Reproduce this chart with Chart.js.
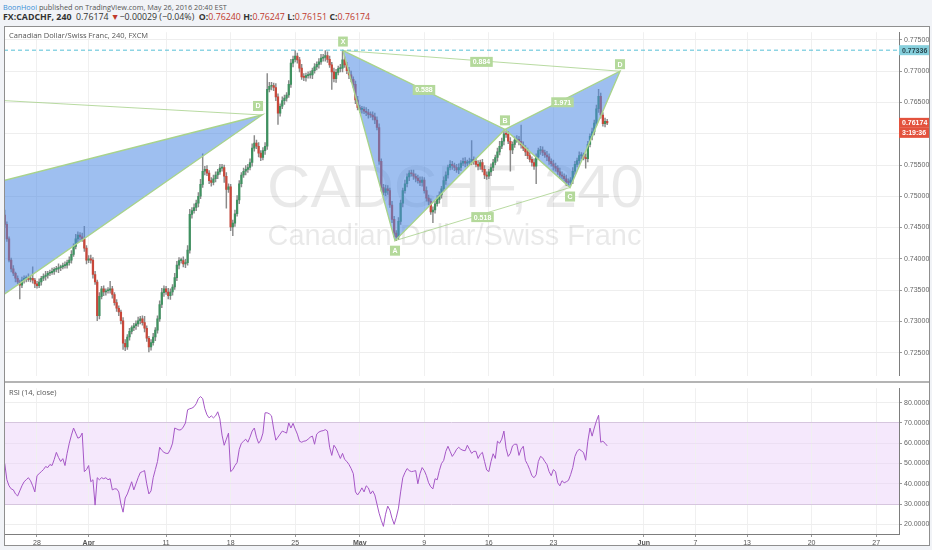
<!DOCTYPE html>
<html>
<head>
<meta charset="utf-8">
<script src="https://cdn.jsdelivr.net/npm/chart.js@4.4.1/dist/chart.umd.min.js"></script>
<style>
  body { margin:0; width:932px; height:550px; background:#f1f3f7; position:relative; overflow:hidden; font-family:"Open Sans", sans-serif; }
  .hdr { position:absolute; left:3px; white-space:nowrap; color:#555; }
  #h1 { top:2px; font-size:7.3px; }
  #h2 { top:11px; font-size:8.8px; color:#333; }
  #h2 b { font-weight:700; }
  .red { color:#c0392b; }
  #box { position:absolute; left:4px; top:26px; width:926px; height:520px; background:#fff; }
  canvas { position:absolute; }
  #c1 { left:4px; top:26px; }
  #c2 { left:4px; top:382px; }
  #frame { position:absolute; left:4px; top:26px; width:924px; height:518px; border:1px solid #8f8f8f; pointer-events:none; }
  #sep { position:absolute; left:4px; top:381px; width:926px; height:2px; background:#b4b4b4; }
  .pane { position:absolute; left:9px; font-size:7.5px; color:#555; white-space:nowrap; }
</style>
</head>
<body>
<div class="hdr" id="h1"><span style="color:#3a8fd6">BoonHooi</span> published on TradingView.com, May 26, 2016 20:40 EST</div>
<div class="hdr" id="h2"><b>FX:CADCHF, 240</b>&nbsp; 0.76174 <span class="red">&#9660;</span>&minus;0.00029 (&minus;0.04%) &nbsp;<b>O:</b><span class="red">0.76240</span> <b>H:</b><span class="red">0.76247</span> <b>L:</b><span class="red">0.76151</span> <b>C:</b><span class="red">0.76174</span></div>
<div id="box"></div>
<canvas id="c1" width="926" height="356"></canvas>
<canvas id="c2" width="926" height="164"></canvas>
<div id="sep"></div>
<div id="frame"></div>
<div class="pane" style="top:30px">Canadian Dollar/Swiss Franc, 240, FXCM</div>
<div class="pane" style="top:387px">RSI (14, close)</div>
<script>
// 4h candles, 6 per trading day, x is counted in trading days from Mon 28 Mar
const firstDay = -2.5;
const closes = [7455,7432,7398,7384,7377,7369,7363,7358,7366,7369,
 7370,7367,7369,7366,7360,7357,7363,7369,7372,7374,
 7377,7378,7380,7383,7384,7386,7387,7389,7390,7394,
 7398,7407,7420,7432,7438,7435,7432,7417,7398,7400,
 7398,7375,7363,7309,7340,7352,7347,7349,7350,7352,
 7343,7330,7321,7315,7301,7265,7259,7275,7284,7290,
 7293,7296,7301,7304,7298,7289,7273,7259,7266,7275,
 7286,7304,7327,7346,7352,7347,7341,7347,7355,7370,
 7390,7397,7397,7392,7394,7414,7471,7477,7482,7489,
 7500,7519,7540,7543,7537,7525,7522,7528,7534,7539,
 7545,7546,7532,7511,7515,7451,7457,7472,7494,7520,
 7534,7540,7543,7546,7554,7577,7585,7580,7569,7562,
 7573,7580,7671,7676,7677,7674,7659,7633,7644,7653,
 7657,7662,7679,7713,7719,7724,7718,7705,7691,7690,
 7693,7694,7694,7701,7707,7711,7715,7721,7722,7725,
 7719,7710,7699,7688,7698,7704,7705,7718,7710,7701,
 7694,7687,7679,7654,7642,7639,7639,7636,7634,7631,
 7630,7627,7622,7610,7556,7514,7506,7512,7509,7486,
 7463,7441,7435,7460,7489,7509,7520,7531,7537,7536,
 7532,7529,7525,7522,7526,7509,7497,7492,7475,7478,
 7488,7495,7502,7512,7525,7534,7546,7551,7549,7546,
 7542,7546,7553,7556,7553,7554,7556,7559,7556,7551,
 7548,7554,7543,7534,7532,7539,7546,7554,7562,7571,
 7580,7588,7600,7599,7588,7574,7583,7590,7591,7588,
 7582,7577,7571,7565,7559,7554,7548,7563,7573,7574,
 7570,7566,7563,7556,7552,7548,7545,7539,7534,7532,
 7528,7523,7522,7526,7540,7551,7557,7565,7565,7562,
 7560,7583,7596,7603,7617,7640,7660,7630,7616,7620,
 7617.4];
const firstOpen = 7470;
// wick lengths beyond the body, in pips
const wickUp = [8,4,3,3,5,2,4,3,5,4, 3,6,4,18,3,4,5,3,4,6, 3,4,5,3,4,6,3,4,5,4, 5,6,4,7,5,4,6,20,4,5,
 6,4,5,3,6,4,5,3,4,12, 4,3,5,4,3,5,6,4,5,3, 4,5,6,4,5,10,4,3,5,6, 4,5,6,7,5,4,6,5,4,7,
 6,5,4,6,5,7,8,5,6,5, 6,8,28,5,6,4,5,6,5,4, 6,5,4,6,5,4,5,6,7,5, 4,5,6,5,6,7,12,5,6,4,
 5,6,25,6,5,4,6,5,4,6, 5,4,6,6,5,9,5,4,6,5, 4,5,6,4,5,4,5,6,5,8, 6,5,4,6,5,4,6,15,5,4,
 5,6,4,5,6,4,5,4,6,5, 4,5,6,5,6,4,5,6,5,4, 6,5,4,6,5,4,6,5,4,5, 6,4,5,6,5,4,6,5,4,5,
 4,6,5,4,6,5,4,6,5,4, 5,6,4,5,6,4,5,30,4,5, 6,4,5,6,5,4,6,5,4,6, 8,5,6,4,5,6,4,5,6,5,
 26,5,4,6,5,4,6,5,4,6, 5,4,6,5,4,6,5,4,6,5, 4,6,5,4,6,5,4,6,5,4, 6,5,4,6,5,6,11,5,4,5, 3];
const wickDn = [5,4,3,5,4,6,3,22,4,5, 6,3,4,5,6,4,3,5,4,6, 5,4,3,5,4,6,5,3,4,5, 4,5,3,4,6,5,4,5,6,4,
 5,6,4,8,5,4,6,5,4,5, 6,4,5,6,5,10,6,4,5,4, 5,6,4,5,4,6,5,8,5,4, 6,5,4,5,6,4,5,6,5,4,
 5,6,4,5,6,4,5,6,4,5, 6,4,5,6,4,5,6,4,5,6, 4,5,10,30,5,6,14,5,4,6, 5,4,6,5,4,6,5,4,6,5,
 4,6,5,4,6,5,6,18,5,4, 6,5,4,5,6,4,5,6,4,5, 6,4,5,6,4,5,6,4,5,6, 5,4,28,5,6,4,5,6,4,5,
 6,4,5,6,4,5,6,4,5,6, 4,5,6,4,5,6,4,5,6,4, 5,6,6,4,5,6,4,5,6,4, 5,6,4,5,6,4,5,6,4,17,
 5,4,6,5,4,6,5,4,6,5, 4,6,5,4,6,5,4,6,5,4, 6,5,4,6,5,4,6,5,4,6, 5,4,6,5,4,34,6,5,4,6,
 5,4,6,5,4,6,5,28,4,6, 5,4,6,5,4,6,5,4,6,5, 4,6,5,4,6,5,4,6,5,4, 15,5,4,6,5,4,6,5,4,5, 3];
const rsi = [50,42,39,37.5,37,35,34,36.5,39,41, 42,43,41.5,39,36,44,45,46,47,48.5,
 48,49.5,49,52,55.5,53,51,52.4,49,55, 60,64,67.5,65,62.5,63,65,46,47,49,
 41,42,29.5,43,42,43,42.5,43,42,42.5, 37,37.5,37.5,36,30,26,33,35,38,41,
 37,40,43,45.5,46,46.5,40,35,36.5,43, 47,51,58,56.5,55.5,55,55,57,60,67.5,
 67,66.5,66.7,68,70,76.5,77,77.3,78,79.5, 82,83,82,77,74,72.5,73.5,72.5,73.5,75.5,
 72,64,59,62,65,46,47,49,50.5,57, 60,61,62,60.5,63,66,67.5,63,60,61.5,
 65,75,75,74.5,73.5,67,61.5,63,64.5,66, 65.5,65,70,67.5,69.8,67,64.5,61,60.5,61,
 61.2,62,63,63.5,59.5,64.5,65.5,66,66.2,66.7, 66,58,54,59,57.5,55,52.5,55,52,51,
 49.5,47.5,45,36,34.5,36,38,36,39,38, 35,36.5,34.5,30,25.5,22,19,25,29,27,
 23,20,23.5,28,36,43,45.5,47.5,46.5,46, 46.2,46.5,40,45,48,46.5,44,40.5,38.5,37.5,
 42.5,42,46.5,50,51.5,56,58.5,56,53.5,55, 57,58,57,56.5,56.3,59,57,55,56,56,
 52.5,54.5,55.5,51,46.8,46,51,54.8,52.5,61, 60,62,66,57.5,53.5,55,58.7,59.5,59.5,54,
 57,58.5,51.5,49.5,47,44,43,44.5,51,53.5, 52.8,51,49.5,46,44,47,46,40.5,39,41.5,
 40.5,41,41.7,44.5,48,53.5,56,57,56.3,55.4, 51.6,61,67.5,63.5,67.5,71,73.8,60.5,61,60,
 58.7];

const tickDays = [0, 4, 10, 15, 20, 25, 30, 35, 40, 47, 51, 55, 60, 65];
const tickLabels = ['28', 'Apr', '11', '18', '25', 'May', '9', '16', '23', 'Jun', '7', '13', '20', '27'];
const priceTicks = [0.725, 0.730, 0.735, 0.740, 0.745, 0.750, 0.755, 0.760, 0.765, 0.770, 0.775];
const rsiTicks = [20, 30, 40, 50, 60, 70, 80];

// harmonic pattern X A B C D
const patNames = ['X', 'A', 'B', 'C', 'D'];
const patDays = [23.70, 27.73, 36.25, 41.29, 45.16];
const patPrices = [0.7733, 0.7429, 0.7607, 0.7514, 0.7700];
const patRatios = ['0.588', '0.884', '0.518', '1.971'];
// older pattern that runs off the left edge: X B C D
const oldDays = [-20, -10, -5, 17.43];
const oldPrices = [0.7673, 0.7486, 0.7308, 0.7630];

const levelPrice = 0.77336;
const lastPrice = 0.76174;
const countdown = '3:19:36';

const X_MIN = -2.556, X_MAX = 66.77;
const UP = '#3f9160', DN = '#c8473a', WICK = '#8a8a8a';
const AXF = '"Liberation Sans", Arial, sans-serif';

const bodies = [], wicks = [], colors = [];
let prev = firstOpen;
closes.forEach((c, i) => {
  const x = firstDay + i / 6;
  const o = prev;
  bodies.push({x: x, y: [o / 1e4, c / 1e4]});
  wicks.push({x: x, y: [(Math.min(o, c) - wickDn[i]) / 1e4, (Math.max(o, c) + wickUp[i]) / 1e4]});
  colors.push(c >= o ? UP : DN);
  prev = c;
});
const rsiPts = rsi.map((v, i) => ({x: firstDay + i / 6, y: v}));

function tag(ctx, x, y, text) {
  ctx.font = 'bold 7px ' + AXF;
  const w = ctx.measureText(text).width + 5;
  ctx.fillStyle = '#b4d99b';
  ctx.fillRect(x - w / 2, y - 5, w, 10);
  ctx.fillStyle = '#ffffff';
  ctx.textAlign = 'center';
  ctx.textBaseline = 'middle';
  ctx.fillText(text, x, y + 0.5);
}

const watermark = {
  id: 'watermark',
  beforeDatasetsDraw(chart) {
    const {ctx, chartArea} = chart;
    const cx = (chartArea.left + chartArea.right) / 2;
    ctx.save();
    ctx.fillStyle = 'rgba(0,0,0,0.085)';
    ctx.textAlign = 'center';
    ctx.textBaseline = 'alphabetic';
    ctx.font = '60px ' + AXF;
    ctx.fillText('CADCHF, 240', cx + 4, 181);
    ctx.font = '29px ' + AXF;
    ctx.fillText('Canadian Dollar/Swiss Franc', cx + 3, 219);
    ctx.restore();
  }
};

const patterns = {
  id: 'patterns',
  afterDatasetsDraw(chart) {
    const {ctx, chartArea, scales} = chart;
    const P = (d, p) => [scales.x.getPixelForValue(d), scales.y.getPixelForValue(p)];
    const pts = patDays.map((d, i) => P(d, patPrices[i]));
    const old = oldDays.map((d, i) => P(d, oldPrices[i]));
    ctx.save();
    ctx.beginPath();
    ctx.rect(chartArea.left, chartArea.top, chartArea.width, chartArea.height);
    ctx.clip();
    const tri = (a, b, c) => {
      ctx.beginPath();
      ctx.moveTo(a[0], a[1]); ctx.lineTo(b[0], b[1]); ctx.lineTo(c[0], c[1]); ctx.closePath();
      ctx.fillStyle = 'rgba(78,138,228,0.55)';
      ctx.fill();
      ctx.strokeStyle = '#a8d38c';
      ctx.lineWidth = 1.4;
      ctx.stroke();
    };
    const thin = (a, b) => {
      ctx.beginPath();
      ctx.moveTo(a[0], a[1]); ctx.lineTo(b[0], b[1]);
      ctx.strokeStyle = 'rgba(160,205,130,0.75)';
      ctx.lineWidth = 1;
      ctx.stroke();
    };
    thin(old[0], old[3]);
    tri(old[1], old[2], old[3]);
    thin(pts[0], pts[4]);
    thin(pts[1], pts[3]);
    tri(pts[0], pts[1], pts[2]);
    tri(pts[2], pts[3], pts[4]);

    // level line
    const ly = scales.y.getPixelForValue(levelPrice);
    ctx.beginPath();
    ctx.setLineDash([4, 3]);
    ctx.moveTo(chartArea.left, ly); ctx.lineTo(chartArea.right, ly);
    ctx.strokeStyle = '#57bfd6';
    ctx.lineWidth = 1;
    ctx.stroke();
    ctx.setLineDash([]);

    const mid = (a, b) => [(a[0] + b[0]) / 2, (a[1] + b[1]) / 2];
    const m1 = mid(pts[0], pts[2]), m2 = mid(pts[0], pts[4]), m3 = mid(pts[1], pts[3]), m4 = mid(pts[2], pts[4]);
    tag(ctx, m1[0], m1[1], patRatios[0]);
    tag(ctx, m2[0], m2[1] + 1, patRatios[1]);
    tag(ctx, m3[0], m3[1] + 3, patRatios[2]);
    tag(ctx, m4[0], m4[1] + 2, patRatios[3]);
    const offs = [-9, 10, -9, 9, -7];
    pts.forEach((p, i) => tag(ctx, p[0], p[1] + offs[i], patNames[i]));
    tag(ctx, old[3][0] - 4, old[3][1] - 9, 'D');
    ctx.restore();
  },
  afterDraw(chart) {
    const {ctx, chartArea, scales} = chart;
    const box = (y, text, bg, fg) => {
      ctx.fillStyle = bg;
      ctx.fillRect(chartArea.right, y - 5, 31, 10);
      ctx.fillStyle = fg;
      ctx.font = 'bold 7px ' + AXF;
      ctx.textAlign = 'left';
      ctx.textBaseline = 'middle';
      ctx.fillText(text, chartArea.right + 3, y + 0.5);
    };
    ctx.save();
    box(scales.y.getPixelForValue(levelPrice), levelPrice.toFixed(5), '#86cfdc', '#2b4a52');
    const ry = scales.y.getPixelForValue(lastPrice);
    box(ry, lastPrice.toFixed(5), '#e3523d', '#ffffff');
    box(ry + 10, countdown, '#e3523d', '#ffffff');
    ctx.restore();
  }
};

const rsiBand = {
  id: 'rsiBand',
  beforeDraw(chart) {
    const {ctx, chartArea, scales} = chart;
    if (!chartArea) return;
    const y1 = scales.y.getPixelForValue(70), y2 = scales.y.getPixelForValue(30);
    ctx.save();
    ctx.fillStyle = '#f5e8fc';
    ctx.fillRect(chartArea.left, y1, chartArea.width, y2 - y1);
    ctx.restore();
  }
};

new Chart(document.getElementById('c1'), {
  type: 'bar',
  data: {
    datasets: [
      {data: wicks, backgroundColor: WICK, barThickness: 0.8, grouped: false, order: 2},
      {data: bodies, backgroundColor: colors, barThickness: 1.6, grouped: false, minBarLength: 1, order: 1}
    ]
  },
  options: {
    responsive: false, animation: false, events: [],
    layout: {padding: 0},
    plugins: {legend: {display: false}, tooltip: {enabled: false}},
    scales: {
      x: {
        type: 'linear', min: X_MIN, max: X_MAX, offset: false,
        afterBuildTicks: s => { s.ticks = tickDays.map(v => ({value: v})); },
        ticks: {display: false},
        grid: {color: '#f0f0f0', drawTicks: false, offset: false},
        border: {display: false},
        afterFit: s => { s.height = 0; }
      },
      y: {
        position: 'right', min: 0.721296, max: 0.776235,
        afterBuildTicks: s => { s.ticks = priceTicks.map(v => ({value: v})); },
        ticks: {callback: v => v.toFixed(5), font: {size: 7, family: AXF}, color: '#666', padding: 2},
        grid: {color: '#eeeeee', tickLength: 3, tickColor: '#999'},
        border: {color: '#7d7d7d'},
        afterFit: s => { s.width = 31; }
      }
    }
  },
  plugins: [watermark, patterns]
});

new Chart(document.getElementById('c2'), {
  type: 'line',
  data: {
    datasets: [{data: rsiPts, borderColor: '#a557c6', borderWidth: 1, pointRadius: 0, tension: 0, fill: false}]
  },
  options: {
    responsive: false, animation: false, events: [],
    layout: {padding: 0},
    plugins: {legend: {display: false}, tooltip: {enabled: false}},
    scales: {
      x: {
        type: 'linear', min: X_MIN, max: X_MAX,
        afterBuildTicks: s => { s.ticks = tickDays.map(v => ({value: v})); },
        ticks: {
          autoSkip: false, maxRotation: 0, padding: 2, color: '#555',
          callback: (v, i) => tickLabels[i],
          font: ctx => ({size: 7, family: AXF, weight: ['Apr', 'May', 'Jun'].includes(tickLabels[ctx.index]) ? 'bold' : 'normal'})
        },
        grid: {color: '#f0f0f0', tickLength: 3, tickColor: '#999'},
        border: {color: '#7d7d7d'},
        afterFit: s => { s.height = 12; }
      },
      y: {
        position: 'right', min: 15.24, max: 87.14,
        afterBuildTicks: s => { s.ticks = rsiTicks.map(v => ({value: v})); },
        ticks: {callback: v => v.toFixed(4), font: {size: 7, family: AXF}, color: '#666', padding: 2},
        grid: {
          color: ctx => (ctx.tick && (ctx.tick.value === 70 || ctx.tick.value === 30)) ? '#d6c6de' : (ctx.tick && ctx.tick.value > 30 && ctx.tick.value < 70 ? '#ecdff3' : '#eeeeee'),
          tickLength: 3, tickColor: '#999'
        },
        border: {color: '#7d7d7d'},
        afterFit: s => { s.width = 31; }
      }
    }
  },
  plugins: [rsiBand]
});
</script>
</body>
</html>
